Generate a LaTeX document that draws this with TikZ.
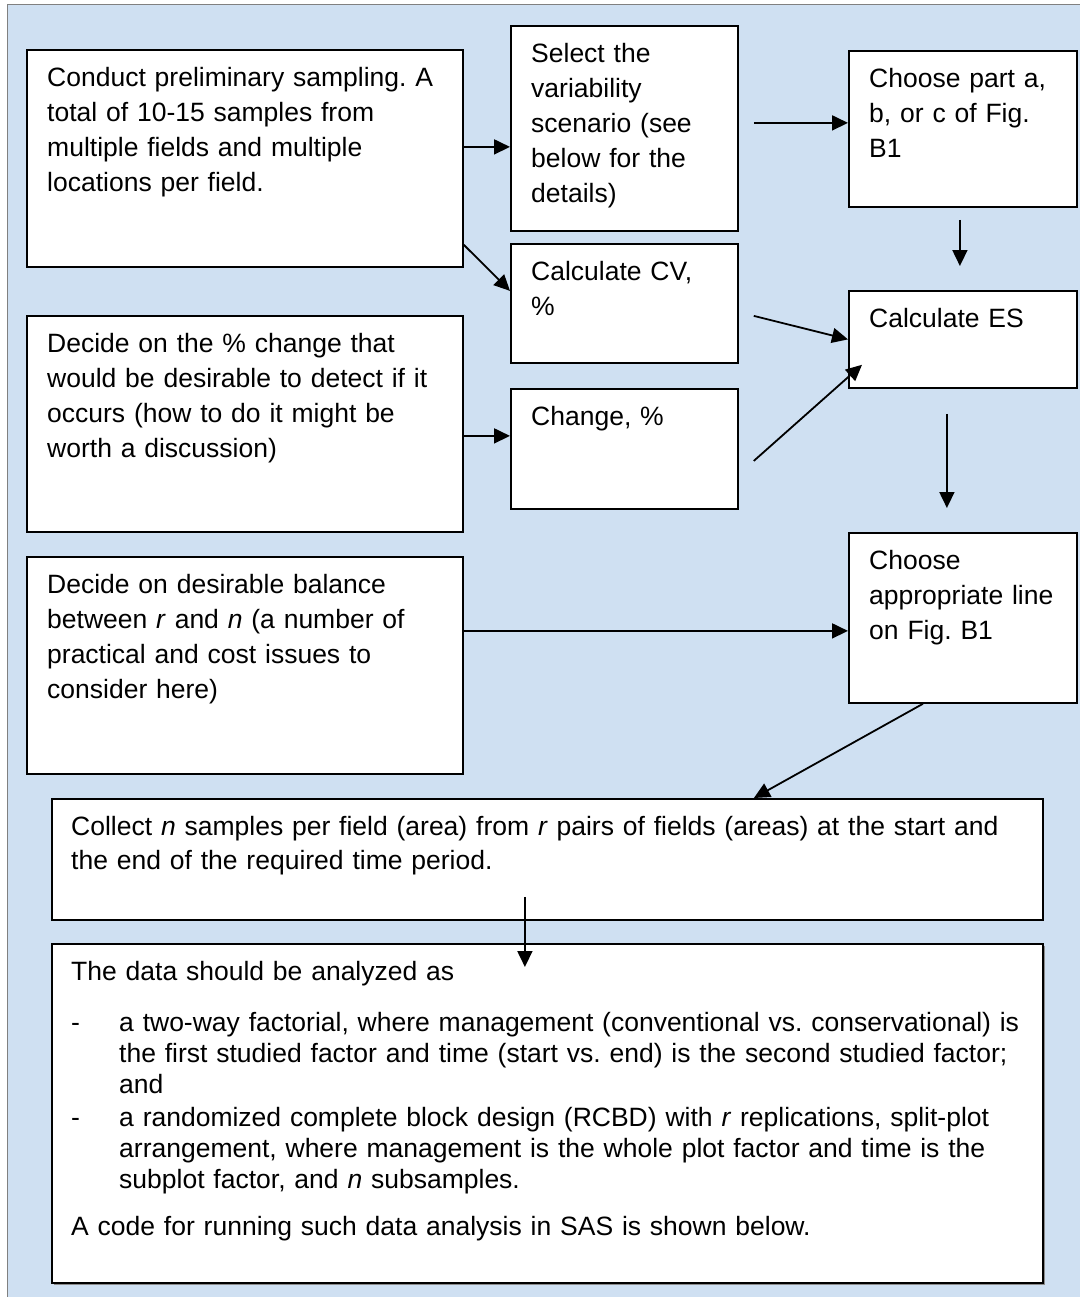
\documentclass[tikz,border=0pt]{standalone}
\usepackage{fontspec}
\setmainfont{Liberation Sans}
\usetikzlibrary{arrows.meta,calc}
\definecolor{bgblue}{RGB}{207,224,242}
\definecolor{framegray}{RGB}{128,128,128}
\definecolor{shadowgray}{RGB}{140,140,140}
\frenchspacing
\newcommand{\dashitem}{\hangindent=48pt\hangafter=1\makebox[48pt][l]{-}}
\newcommand{\brk}{\hfil\break}
\begin{document}
\begin{tikzpicture}[x=1pt,y=-1pt,
  box/.style={draw=black, line width=1.8pt, fill=white, rectangle, inner sep=0pt, anchor=north west},
  txt/.style={anchor=north west, inner sep=0pt, align=left, text width=#1,
              font=\fontsize{26.5}{35}\selectfont, execute at begin node={\frenchspacing\hyphenpenalty=10000\strut}},
  txt/.default=420pt,
  arr/.style={line width=1.8pt, -{Triangle[length=16pt,width=15pt]}}]
\useasboundingbox (0,0) rectangle (1080,1297);
% background frame
\fill[bgblue] (7,5) rectangle (1080,1297);
\draw[framegray, line width=1pt] (7,1297) -- (7,5) -- (1080,5);

% boxes
\node[box, minimum width=436pt, minimum height=217pt] (A) at (26,49) {};
\node[box, minimum width=227pt, minimum height=205pt] (B) at (510,25) {};
\node[box, minimum width=228pt, minimum height=156pt] (C) at (848,50) {};
\node[box, minimum width=227pt, minimum height=119pt] (D) at (510,243) {};
\node[box, minimum width=228pt, minimum height=97pt]  (E) at (848,290) {};
\node[box, minimum width=436pt, minimum height=216pt] (F) at (26,315) {};
\node[box, minimum width=227pt, minimum height=120pt] (G) at (510,388) {};
\node[box, minimum width=228pt, minimum height=170pt] (H) at (848,532) {};
\node[box, minimum width=436pt, minimum height=217pt] (I) at (26,556) {};
\node[box, minimum width=991pt, minimum height=121pt] (J) at (51,798) {};
\fill[shadowgray] (54,946) rectangle (1045,1285);
\node[box, minimum width=991pt, minimum height=339pt] (K) at (51,943) {};

% texts
\node[txt] (At) at ($(A.north west)+(21,12.5)$) {Conduct preliminary sampling. A\\ total of 10-15 samples from\\ multiple fields and multiple\\ locations per field.};
\node[txt=210pt] (Bt) at ($(B.north west)+(21,12.5)$) {Select the\\ variability\\ scenario (see\\ below for the\\ details)};
\node[txt=210pt] (Ct) at ($(C.north west)+(21,12.5)$) {Choose part a,\\ b, or c of Fig.\\ B1};
\node[txt=210pt] (Dt) at ($(D.north west)+(21,12.5)$) {Calculate CV,\\ \%};
\node[txt=210pt] (Et) at ($(E.north west)+(21,12.5)$) {Calculate ES};
\node[txt] (Ft) at ($(F.north west)+(21,12.5)$) {Decide on the \% change that\\ would be desirable to detect if it\\ occurs (how to do it might be\\ worth a discussion)};
\node[txt=210pt] (Gt) at ($(G.north west)+(21,12.5)$) {Change, \%};
\node[txt=210pt] (Ht) at ($(H.north west)+(21,12.5)$) {Choose\\ appropriate line\\ on Fig. B1};
\node[txt] (It) at ($(I.north west)+(21,12.5)$) {Decide on desirable balance\\ between \textit{r} and \textit{n} (a number of\\ practical and cost issues to\\ consider here)};
\node[txt=965pt, font=\fontsize{26.5}{34}\selectfont] (Jt) at ($(J.north west)+(20,13.7)$) {Collect \textit{n} samples per field (area) from \textit{r} pairs of fields (areas) at the start and\\ the end of the required time period.};
\node[txt=965pt, font=\fontsize{26.5}{31}\selectfont] (Kt) at ($(K.north west)+(20,15.3)$) {The data should be analyzed as\par\vspace{20pt}
\dashitem a two-way factorial, where management (conventional vs. conservational) is\brk the first studied factor and time (start vs. end) is the second studied factor;\brk and\par\vspace{2pt}
\dashitem a randomized complete block design (RCBD) with \textit{r} replications, split-plot\brk arrangement, where management is the whole plot factor and time is the\brk subplot factor, and \textit{n} subsamples.\par\vspace{16pt}
A code for running such data analysis in SAS is shown below.};

% connectors
\draw[arr] ($(A.east)+(0,-11.5)$) -- ($(A.east -| B.west)+(0,-11.5)$);
\draw[arr] ($(A.south east)+(0,-23)$) -- ($(D.west)+(0,-12.5)$);
\draw[arr] ($(C.west -| B.east)+(15,-6)$) -- ($(C.west)+(0,-6)$);
\draw[arr] ($(C.south)+(-3,12)$) -- ($(E.north)+(-3,-24)$);
\draw[arr] ($(D.east)+(15,12.5)$) -- (E.west);
\draw[arr] ($(G.east)+(15,12)$) -- ($(E.south west)+(14,-24)$);
\draw[arr] ($(F.east)+(0,12)$) -- ($(F.east -| G.west)+(0,12)$);
\draw[arr] ($(E.south)+(-16,25)$) -- ($(H.north)+(-16,-24)$);
\draw[arr] ($(I.east)+(0,-34.5)$) -- ($(I.east -| H.west)+(0,-34.5)$);
\draw[arr] ($(H.south)+(-40,0)$) -- ($(J.north)+(206.5,0)$);
\draw[arr] ($(J.south)+(-22.5,-24)$) -- ($(K.north)+(-22.5,24)$);
\end{tikzpicture}
\end{document}
